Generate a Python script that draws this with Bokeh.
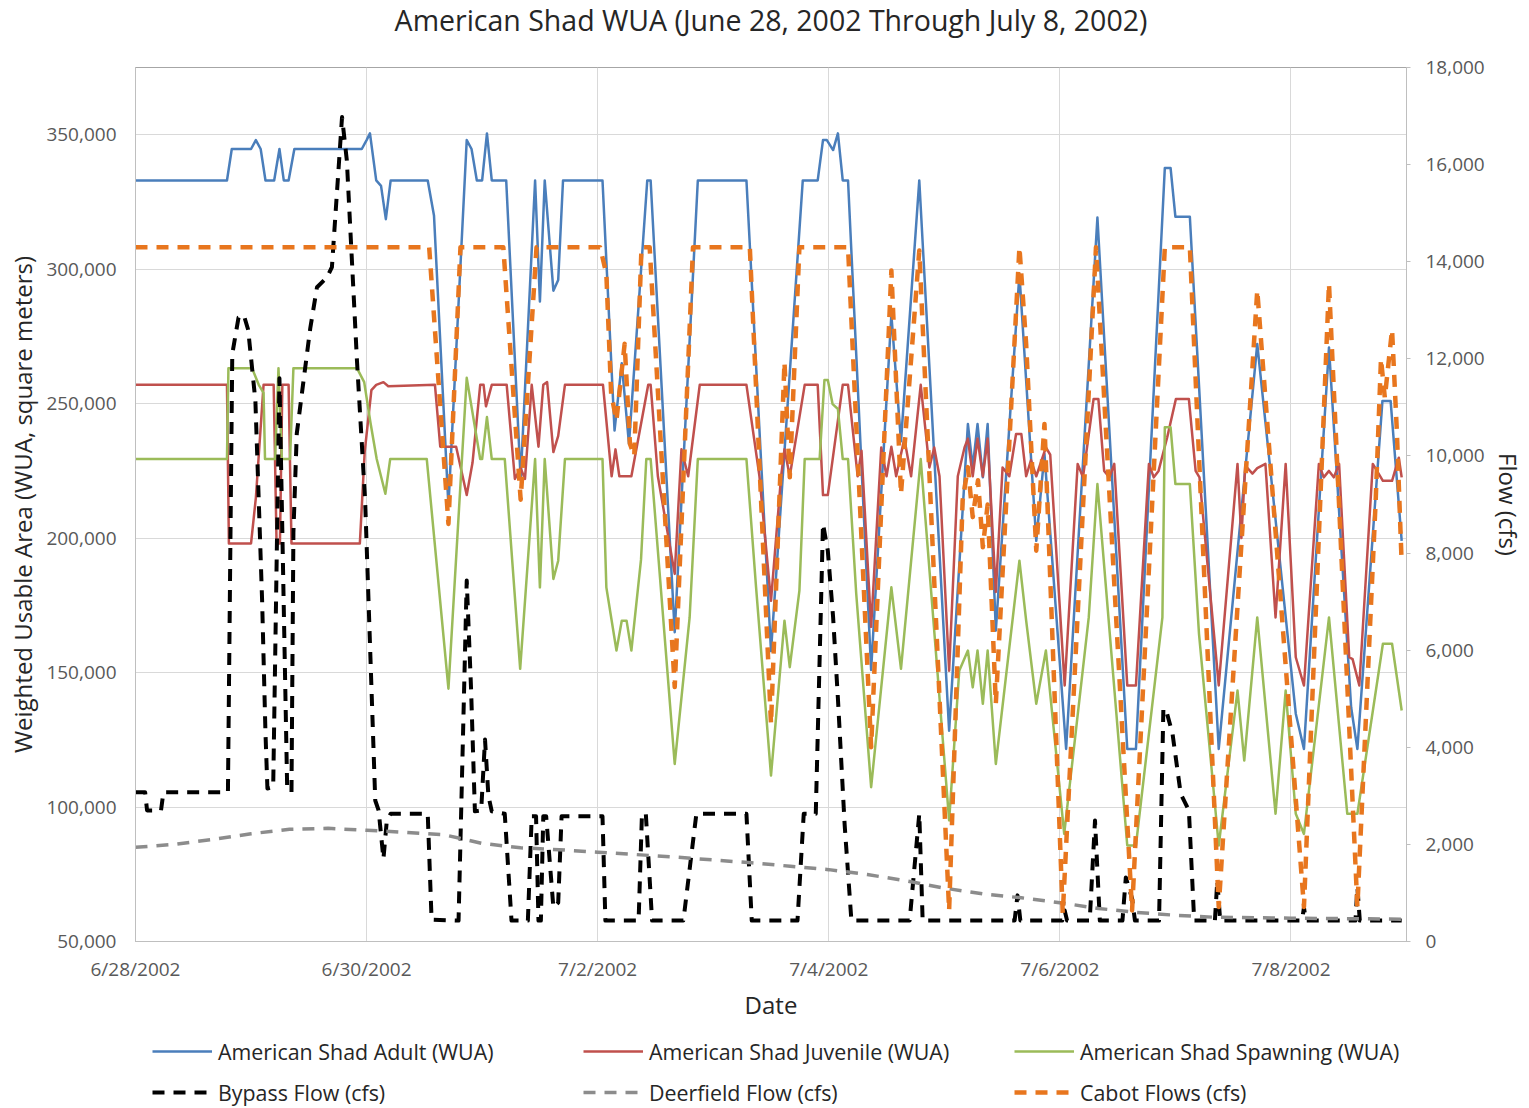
from bokeh.plotting import figure
from bokeh.layouts import column
from bokeh.models import (Range1d, LinearAxis, FixedTicker, NumeralTickFormatter,
                          Legend, LegendItem, ColumnDataSource)
from bokeh.embed import file_html
from bokeh.resources import INLINE

TITLE = "American Shad WUA (June 28, 2002 Through July 8, 2002)"
TICK_HOURS = [0, 48, 96, 144, 192, 240]
TICK_LABELS = ["6/28/2002", "6/30/2002", "7/2/2002", "7/4/2002", "7/6/2002", "7/8/2002"]
WUA_TICKS = [50000, 100000, 150000, 200000, 250000, 300000, 350000]
FLOW_TICKS = [0, 2000, 4000, 6000, 8000, 10000, 12000, 14000, 16000, 18000]

# (hours after 6/28/2002 00:00, WUA in thousand m2)
ADULT = [(0,333),(19,333),(20,344.7),(24,344.7),(25,348),(26,344.7),(27,333),(28.8,333),(29.9,344.7),(30.8,333),
         (31.8,333),(33,344.7),(47,344.7),(48,348),(48.7,350.5),(50,333),(51,331),(52,318.6),(53,333),(60.7,333),
         (62,320),(65,212),(68.8,348),(69.8,344.7),(70.9,333),(72,333),(73,350.5),(74,333),(77,333),(80,222),
         (83,333),(84,288),(85,333),(86.8,292),(87.8,296),(88.8,333),(97,333),(99.5,240),(101,265),(102.5,235),
         (106.3,333),(107,333),(112,165),(116.8,333),(126.9,333),(132,158),(138.6,333),(141.7,333),(142.8,348),(143.6,348),
         (144.9,344.3),(145.9,350.5),(146.9,333),(148,333),(152.8,151),(157,283),(159,236),(162.8,333),(169,128.4),(172.9,242.4),
         (173.9,226.3),(174.9,242.4),(176,222.6),(177,242.4),(178.7,165.6),(183.6,298.2),(187.1,199),(188.8,231.3),(193.3,121.6),(199.8,319.2),
         (206,121.6),(207.8,121.6),(213.8,337.6),(215,337.6),(216,319.5),(219,319.5),(225,121.6),(233,272.2),(241,134.7),(242.7,121.6),
         (247.9,270.9),(252.5,137.1),(253.8,121.6),(259,251),(260.7,251),(263,199)]

JUVENILE = [(0,257),(19,257),(19.4,198),(24,198),(25,215),(26.6,257),(28.7,257),(29.3,198),(30,198),(30.5,257),
            (31.8,257),(32.4,198),(46.6,198),(47.6,232),(49,255),(50,257),(51.5,258),(52.5,256.5),(62.2,257),(63.3,234),
            (66.6,234),(68.8,216),(70,228),(71.6,257),(72.3,257),(72.8,249),(74,257),(77.1,257),(78.8,222),(80,226),
            (80.9,222),(82.3,257),(83.7,234),(84.7,257),(85.5,258),(86.8,232),(87.8,238),(89.2,257),(97.1,257),(98.9,223),
            (99.7,233),(100.5,223),
            (103,223),(106.5,257),(107,257),(108.5,223),(112,186.7),(113.4,233),(114.8,223),(117.2,257),(126.9,257),(129.6,223),
            (132,176.7),(134.1,223),(134.8,233),(135.9,223),(139,257),(141.7,257),(142.8,216),(143.8,216),(146.9,257),(148,257),
            (150,223),(150.8,232.5),(152.8,167),(154.9,233.7),(156,223),(157,234),(158,223),(159.7,237),(161.1,223),(163.1,257),
            (164.9,226.3),(165.9,233.7),(167,223),(169,150.7),(170.8,223),(172.2,233.7),(172.9,237),(173.9,223),(174.9,237),(176,223),
            (177,237),(178.7,180),(180.1,226.3),(181.5,223),(182.9,238.7),(184,238.7),(185,223),(186,229),(187.1,223),(189.1,233.7),
            (190,231),(193,145.2),(195.7,227.6),(196.8,222.6),(199,251.7),(200,251.7),(201.2,225),(202.3,222.6),(203.3,227.6),(206,145.2),
            (207.8,145.2),(210.5,227.6),(211.5,222.6),(212.5,225),(214.3,237.5),(216.1,251.7),(218.8,251.7),(220.2,225),(221,222.6),(225,145.2),
            (228.9,227.6),(229.7,200),(230.5,227),(232,224),(233,226),(234.7,227.6),(236.8,170.5),(238.9,227.6),(241,155.7),(242.7,145.2),
            (245.8,227.6),(246.8,222.6),(247.9,225),(248.9,222.6),(250,227.6),(252.1,155.7),(252.8,155),(254.2,145.2),(257,227.6),(259.1,221.3),
            (261,221.3),(262.4,229.9),(263,222.6)]

SPAWNING = [(0,229.4),(19,229.4),(19.3,263.2),(24.2,263.2),(25.6,257),(26.6,254),(26.9,229.4),(29,229.4),(29.7,263.2),(30.4,229.4),
            (32.1,229.4),(32.8,263.2),(46,263.2),(47.5,258),(48.8,243),(50.1,229.4),(51.9,216.5),(52.9,229.4),(60.5,229.4),(65,144),
            (68.8,259.6),(71.6,229.4),(72,229.4),(73,245),(74,229.4),(76.7,229.4),(79.9,151.4),(83,229.4),(84,181.7),(85,229.4),
            (86.8,184.8),(87.8,191.6),(89.2,229.4),(97,229.4),(97.8,181.7),(99.9,158.2),(101,169.3),(102,169.3),(103,158.2),(105,192),
            (106.1,229.4),
            (107,229.4),(112,116),(115.1,170.5),(116.8,229.4),(126.9,229.4),(128.9,181.7),(132,111.7),(134.8,169.3),(135.9,152),(137.9,180.5),
            (139,229.4),(142.1,229.4),(143.1,258.8),(143.8,258.8),(144.8,249.8),(145.9,248),(146.9,229.4),(148,229.4),(149.7,179.4),(152.8,107.4),
            (157,181.7),(159,151.4),(163.1,229.4),(169,95),(171.1,150.7),(172.9,158.2),(173.9,144.5),(174.9,158.2),(176,138.4),(177,158.2),
            (178.7,116),(183.6,191.6),(185,169.3),(187.1,138.4),(189.1,158.2),(192.9,90),(198,170.5),(199.8,220.1),(206,85.7),(207.8,85.7),
            (213.3,170.5),(213.8,241.2),(215,241.2),(216,220.1),(219,220.1),(220.9,164.4),(225,85.7),(228.9,143.3),(230.3,117.3),(233,170.5),
            (236.8,97.5),(238.9,143.3),(241,97.5),(242.7,90),(247.9,170.5),(251.7,97.5),(253.8,97.5),(259.1,160.7),(261,160.7),(263,135.9)]

# (hours, flow in cfs)
BYPASS = [(0,3075),(2,3075),(2.4,2700),(5.3,2700),(5.8,3075),(19.2,3075),(20.1,12100),(21.4,12850),(22.5,12900),(23.4,12600),
          (24.9,11140),(25.6,9080),(26.3,7020),(27,4280),(27.4,3150),(28.6,3180),(29.9,11600),(31.5,3180),(32.4,3075),(32.8,8430),
          (33.5,10460),(34.8,11470),(36.3,12630),(37.7,13475),(39.8,13680),(40.8,13890),
          (42.9,16980),(43.9,16085),(46,11965),(47.7,9080),(49.8,2904),(50.5,2700),(51.5,1703),(52.2,2490),(53,2630),(60.7,2630),
          (61.5,450),(67.1,430),(68.8,7435),(69.7,5200),(70.5,2680),(71.8,2700),(72.6,4160),(73.3,3000),(74,2680),(76.7,2630),
          (78.1,430),(81.5,430),(82.3,2580),(83.2,2580),(83.7,430),(84.2,430),(84.7,2580),(85.3,2580),(86.8,700),(87.8,800),
          (88.5,2580),(97,2580),
          (97.6,430),(104.5,430),(105.2,2630),(106,2630),(107.3,430),(113.8,430),(116.5,2630),(126.9,2630),(128,430),(137.5,430),
          (138.8,2630),(141.3,2630),(142.8,8600),(143.8,8050),(144.9,6680),(145.9,5000),(147.3,2400),(148.7,430),(160.8,430),(162.8,2630),
          (163.5,430),(182.6,430),(183.2,950),(183.8,430),(192.5,430),(193,640),(193.5,430),(198.2,430),(199.3,2490),(200.3,430),
          (205,430),(205.7,1320),(207,885),(207.6,430),(212.6,430),(213.5,4790),(214,4790),(215.4,4280),(217.1,3040),(218.8,2700),
          (219.9,430),(224.2,430),(224.7,1256),(225.3,430),(242.3,430),(242.7,700),(243.1,430),(253.4,430),(253.8,1118),(254.3,430),
          (263,430)]

DEERFIELD = [(0,1940),(8,2000),(16,2100),(24,2220),(32,2310),(40,2330),(48,2290),(56,2250),(64,2200),(72,2020),
             (80,1930),(88,1890),(96,1840),(104,1790),(112,1740),(120,1680),(128,1620),(136,1550),(144,1480),(152,1380),
             (160,1250),(168,1100),(176,980),(184,900),(192,800),(200,680),(208,600),(216,540),(224,500),(240,480),(263,460)]

CABOT = [(0,14300),(61,14300),(65,8600),(67.5,14300),(76.4,14300),(80,9100),(83.3,14300),(96.5,14300),(97.8,13750),(98.8,11280),
         (99.9,10730),(101.6,12310),(102.7,10250),(103.6,10000),(105.1,14300),(106.8,14300),(112,5240),(115.8,14300),(127.6,14300),(132,4480),
         (134.8,11930),(135.9,9560),(137.9,14300),(148,14300),(152.8,4000),(157,13820),(159,9220),(162.8,14230),(169,640),(171.8,9080),
         (172.9,9770),(173.9,8740),(175,9500),(176,8120),(177,9000),(178.7,4900),(183.6,14300),(185,12300),(187.1,8050),(188.8,10660),
         (192.6,570),(199.5,14300),(207,640),(213.8,14300),(219,14300),(225,710),(233,13410),(242.7,710),(247.9,13550),(253.8,710),
         (257.6,9080),(258.7,12000),(259.5,11200),(261,12600),(262,10500),(263,7780)]

SERIES_NAMES = ["American Shad Adult (WUA)", "American Shad Juvenile (WUA)", "American Shad Spawning (WUA)",
                "Bypass Flow (cfs)", "Deerfield Flow (cfs)", "Cabot Flows (cfs)"]

FONT = "Open Sans"
STYLES = [dict(line_color="#4a7ebb", line_width=2.5),
          dict(line_color="#c0504d", line_width=2.5),
          dict(line_color="#9bbb59", line_width=2.5),
          dict(line_color="black", line_width=4, line_dash="12 9"),
          dict(line_color="#8c8c8c", line_width=3.5, line_dash="12 9"),
          dict(line_color="#e8761e", line_width=4.5, line_dash="12 9")]
W = 1527

# ---- title strip ----
tf = figure(width=W, height=55, output_backend="svg", toolbar_location=None,
            x_range=Range1d(0, 1), y_range=Range1d(0, 1), x_axis_type=None, y_axis_type=None,
            min_border=0, min_border_left=0, min_border_right=0, min_border_top=0, min_border_bottom=0,
            title=TITLE)
tf.outline_line_color = None
tf.xgrid.visible = False
tf.ygrid.visible = False
tf.title.align = "center"
tf.title.vertical_align = "top"
tf.title.offset = -7
tf.title.standoff = 0
tf.title.text_font = FONT
tf.title.text_font_size = "28.5px"
tf.title.text_font_style = "normal"
tf.title.text_color = "#262626"

# ---- main chart ----
p = figure(width=W, height=975, output_backend="svg", toolbar_location=None,
           x_range=Range1d(0, 264), y_range=Range1d(50000, 375000),
           min_border_left=135, min_border_right=119, min_border_top=12, min_border_bottom=89)
p.title.text = ""
p.title.standoff = 0
p.extra_y_ranges = {"flow": Range1d(0, 18000)}
p.outline_line_color = "#a6a6a6"
p.background_fill_color = "white"
p.border_fill_color = "white"

xa = p.xaxis[0]
xa.ticker = FixedTicker(ticks=TICK_HOURS)
xa.major_label_overrides = {h: l for h, l in zip(TICK_HOURS, TICK_LABELS)}
xa.axis_label = "Date"
xa.major_tick_out = 0
xa.major_tick_in = 0
xa.minor_tick_out = 0
xa.minor_tick_in = 0
xa.major_label_standoff = 14
xa.axis_label_standoff = 3

ya = p.yaxis[0]
ya.ticker = FixedTicker(ticks=WUA_TICKS)
ya.formatter = NumeralTickFormatter(format="0,0")
ya.axis_label = "Weighted Usable Area (WUA, square meters)"
ya.major_tick_out = 0
ya.major_tick_in = 0
ya.minor_tick_out = 0
ya.minor_tick_in = 0
ya.major_label_standoff = 19
ya.axis_label_standoff = 4

ra = LinearAxis(y_range_name="flow", ticker=FixedTicker(ticks=FLOW_TICKS),
                formatter=NumeralTickFormatter(format="0,0"), axis_label="Flow (cfs)")
ra.major_tick_out = 4
ra.major_tick_in = 0
ra.minor_tick_out = 0
ra.minor_tick_in = 0
ra.major_label_standoff = 15
ra.axis_label_standoff = 4
p.add_layout(ra, "right")

for ax in [xa, ya, ra]:
    ax.axis_line_color = "#bfbfbf"
    ax.major_tick_line_color = "#bfbfbf"
    ax.major_label_text_font = FONT
    ax.major_label_text_font_size = "19px"
    ax.major_label_text_color = "#595959"
    ax.axis_label_text_font = FONT
    ax.axis_label_text_font_size = "24px"
    ax.axis_label_text_font_style = "normal"
    ax.axis_label_text_color = "#262626"

p.xgrid.ticker = FixedTicker(ticks=TICK_HOURS)
p.ygrid.ticker = FixedTicker(ticks=WUA_TICKS)
for g in [p.xgrid, p.ygrid]:
    g.grid_line_color = "#d9d9d9"
    g.grid_line_width = 1


def src(pairs, scale=1.0):
    return ColumnDataSource(dict(x=[a for a, b in pairs], y=[b * scale for a, b in pairs]))


for pairs, scale, rng, st in [(ADULT, 1000, "default", STYLES[0]), (JUVENILE, 1000, "default", STYLES[1]),
                              (SPAWNING, 1000, "default", STYLES[2]), (BYPASS, 1, "flow", STYLES[3]),
                              (DEERFIELD, 1, "flow", STYLES[4]), (CABOT, 1, "flow", STYLES[5])]:
    p.line("x", "y", source=src(pairs, scale), y_range_name=rng, line_join="round", **st)

# ---- legend strip ----
lg = figure(width=W, height=77, output_backend="svg", toolbar_location=None,
            x_range=Range1d(0, 1), y_range=Range1d(0, 1), x_axis_type=None, y_axis_type=None,
            min_border=0, min_border_left=0, min_border_right=0, min_border_top=0, min_border_bottom=0)
lg.outline_line_color = None
lg.xgrid.visible = False
lg.ygrid.visible = False
items = []
for name, st in zip(SERIES_NAMES, STYLES):
    r = lg.line(x=[-5], y=[-5], **st)   # legend sample only (outside the visible range)
    items.append(LegendItem(label=name, renderers=[r]))

legend = Legend(items=items, orientation="horizontal", ncols=3, location=(17, 0))
legend.glyph_width = 60
legend.glyph_height = 30
legend.label_height = 30
legend.label_width = 354
legend.label_standoff = 6
legend.spacing = 11
legend.padding = 0
legend.margin = 0
legend.border_line_alpha = 0
legend.background_fill_alpha = 0
legend.label_text_font = FONT
legend.label_text_font_size = "21.4px"
legend.label_text_color = "#262626"
lg.add_layout(legend, "center")

layout = column(tf, p, lg, spacing=0)
open("out.html", "w").write(file_html(layout, INLINE))
